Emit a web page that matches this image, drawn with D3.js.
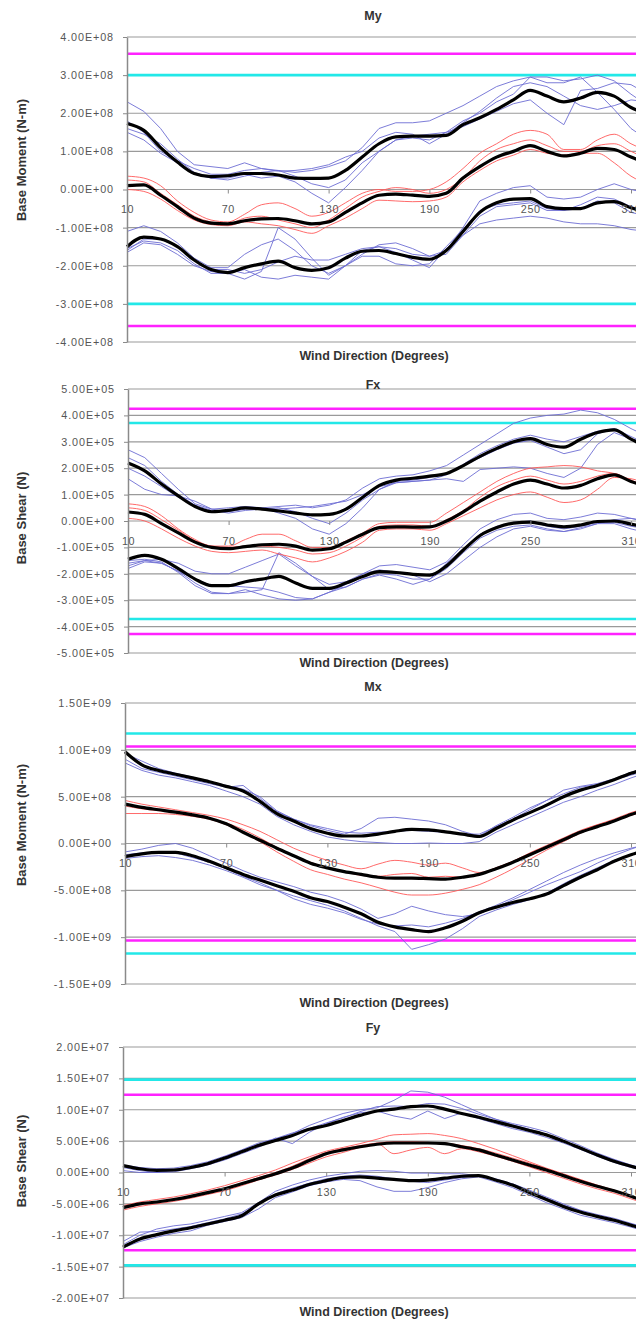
<!DOCTYPE html>
<html>
<head>
<meta charset="utf-8">
<script src="https://cdn.jsdelivr.net/npm/d3@7"></script>
<style>
  body { margin: 0; background: #fff; }
  svg { display: block; font-family: "Liberation Sans", Arial, sans-serif; }
</style>
</head>
<body>
<svg id="chart" width="636" height="1322"></svg>
<script>
// Wind directions (degrees) for every sample
const directions = [10,20,30,40,50,60,70,80,90,100,110,120,130,140,150,160,170,180,190,200,210,220,230,240,250,260,270,280,290,300,310,320];
// Category labels shown along the zero line
const directionLabels = [10,70,130,190,250,310];

// ---------- My : base moment about y (values in units of 1E+08 N-m) ----------
const myTicks = [4e8,3e8,2e8,1e8,0,-1e8,-2e8,-3e8,-4e8];
const myTickLabels = ["4.00E+08","3.00E+08","2.00E+08","1.00E+08","0.00E+00","-1.00E+08","-2.00E+08","-3.00E+08","-4.00E+08"];
const myCyan = [3.0e8,-3.0e8];
const myMagenta = [3.56e8,-3.58e8];
const myMax  = [1.73,1.55,1.1,0.72,0.42,0.34,0.36,0.42,0.42,0.38,0.3,0.29,0.3,0.5,0.85,1.2,1.38,1.4,1.4,1.42,1.7,1.88,2.1,2.35,2.6,2.45,2.3,2.4,2.55,2.45,2.15,2.0];
const myMean = [0.1,0.12,-0.15,-0.45,-0.75,-0.88,-0.9,-0.82,-0.77,-0.76,-0.82,-0.9,-0.85,-0.6,-0.35,-0.15,-0.12,-0.15,-0.18,-0.1,0.3,0.6,0.85,1.0,1.15,1.0,0.88,0.95,1.08,1.05,0.85,0.7];
const myMin  = [-1.5,-1.25,-1.3,-1.5,-1.85,-2.1,-2.18,-2.05,-1.95,-1.88,-2.05,-2.12,-2.05,-1.8,-1.62,-1.6,-1.68,-1.78,-1.83,-1.6,-1.1,-0.6,-0.35,-0.25,-0.24,-0.45,-0.5,-0.5,-0.35,-0.32,-0.48,-0.6];
const myBlue = [
  [2.3,2.05,1.6,1.0,0.65,0.6,0.55,0.7,0.55,0.5,0.45,0.5,0.6,0.75,1.1,1.6,1.75,1.75,1.8,2.0,2.2,2.45,2.7,2.85,2.95,2.95,2.85,2.9,3.0,2.85,2.5,2.2],
  [1.6,1.45,1.2,0.8,0.45,0.3,0.25,0.35,0.45,0.5,0.35,0.15,0.05,0.25,0.7,1.0,1.3,1.35,1.3,1.5,1.8,2.0,2.3,2.5,2.95,2.8,2.8,2.95,2.55,2.1,1.6,1.3],
  [1.5,1.3,0.95,0.7,0.4,0.3,0.3,0.4,0.3,0.35,0.2,-0.1,-0.35,0.05,0.5,1.0,1.3,1.4,1.45,1.5,1.65,1.85,2.05,2.25,2.35,2.0,1.7,2.6,2.65,2.8,2.75,2.5],
  [1.8,1.5,1.0,0.75,0.55,0.4,0.4,0.5,0.55,0.48,0.5,0.55,0.65,0.85,1.0,1.35,1.5,1.45,1.2,1.45,1.75,2.05,2.4,2.7,2.8,2.7,2.45,2.2,2.1,2.2,2.35,2.3],
  [-1.1,-0.95,-1.1,-1.4,-1.8,-2.05,-2.05,-1.7,-1.45,-1.3,-1.6,-2.0,-2.2,-2.0,-1.7,-1.45,-1.4,-1.55,-1.75,-1.6,-1.0,-0.3,-0.1,0.05,0.1,-0.2,-0.25,-0.2,0.0,0.15,0.0,-0.1],
  [-1.65,-1.4,-1.45,-1.7,-2.0,-2.15,-2.2,-2.35,-2.15,-1.0,-1.3,-1.8,-2.25,-2.0,-1.75,-1.75,-1.95,-2.0,-1.95,-1.5,-1.05,-0.55,-0.4,-0.35,-0.3,-0.5,-0.55,-0.4,-0.2,-0.25,-0.45,-0.55],
  [-1.55,-1.35,-1.4,-1.6,-1.95,-2.2,-2.2,-2.1,-2.3,-2.35,-2.25,-2.3,-2.35,-2.0,-1.6,-1.5,-1.55,-1.7,-1.75,-1.7,-1.2,-0.7,-0.45,-0.4,-0.35,-0.55,-0.55,-0.5,-0.3,-0.35,-0.6,-0.7],
  [-1.6,-1.3,-1.3,-1.5,-1.85,-2.1,-2.1,-2.2,-2.1,-1.9,-1.75,-1.85,-1.85,-1.7,-1.55,-1.5,-1.65,-1.85,-2.05,-1.55,-1.2,-0.9,-0.8,-0.75,-0.7,-0.75,-0.85,-0.9,-0.9,-0.95,-1.05,-1.1]
];
const myRed = [
  [0.35,0.3,0.1,-0.3,-0.6,-0.8,-0.85,-0.65,-0.4,-0.35,-0.5,-0.7,-0.6,-0.35,-0.1,0.0,-0.05,-0.05,0.0,0.2,0.55,0.95,1.2,1.45,1.55,1.45,1.05,1.05,1.3,1.45,1.2,1.0],
  [0.0,-0.05,-0.25,-0.55,-0.8,-0.92,-0.95,-0.85,-0.9,-0.95,-1.05,-1.15,-0.95,-0.75,-0.5,-0.28,-0.3,-0.32,-0.3,-0.2,0.2,0.5,0.75,0.9,1.05,0.95,0.9,0.95,0.95,0.7,0.35,0.15],
  [0.25,0.2,-0.1,-0.4,-0.7,-0.85,-0.9,-0.75,-0.7,-0.8,-0.9,-1.0,-0.8,-0.5,-0.2,-0.05,0.05,0.0,-0.1,0.0,0.3,0.75,1.05,1.2,1.3,1.15,1.0,1.0,1.15,1.2,1.0,0.8]
];

// ---------- Fx : base shear along x (values in units of 1E+05 N) ----------
const fxTicks = [5e5,4e5,3e5,2e5,1e5,0,-1e5,-2e5,-3e5,-4e5,-5e5];
const fxTickLabels = ["5.00E+05","4.00E+05","3.00E+05","2.00E+05","1.00E+05","0.00E+00","-1.00E+05","-2.00E+05","-3.00E+05","-4.00E+05","-5.00E+05"];
const fxCyan = [3.71e5,-3.71e5];
const fxMagenta = [4.25e5,-4.28e5];
const fxMax  = [2.2,1.9,1.4,0.95,0.55,0.35,0.4,0.5,0.45,0.38,0.3,0.23,0.25,0.45,0.9,1.35,1.55,1.62,1.7,1.8,2.1,2.45,2.75,3.0,3.12,2.9,2.8,3.1,3.35,3.45,3.1,2.8];
const fxMean = [0.34,0.25,-0.1,-0.45,-0.8,-1.0,-1.05,-0.97,-0.9,-0.88,-0.95,-1.1,-1.05,-0.8,-0.5,-0.25,-0.22,-0.23,-0.22,0.0,0.35,0.75,1.1,1.4,1.55,1.4,1.25,1.35,1.6,1.75,1.5,1.3];
const fxMin  = [-1.45,-1.3,-1.45,-1.8,-2.2,-2.45,-2.45,-2.3,-2.2,-2.1,-2.35,-2.55,-2.55,-2.35,-2.1,-1.92,-1.95,-2.02,-2.05,-1.7,-1.1,-0.55,-0.25,-0.08,-0.04,-0.15,-0.22,-0.15,-0.02,0.0,-0.12,-0.25];
const fxBlue = [
  [2.7,2.4,1.8,1.2,0.65,0.45,0.5,0.55,0.5,0.55,0.6,0.5,0.6,0.8,1.25,1.6,1.7,1.75,1.9,2.1,2.5,2.9,3.3,3.7,3.9,4.0,4.05,4.2,4.1,3.85,3.5,3.2],
  [2.4,2.1,1.5,1.0,0.6,0.4,0.3,0.4,0.45,0.5,0.35,0.1,-0.1,0.3,0.8,1.2,1.5,1.55,1.65,1.8,2.1,2.4,2.7,2.95,3.05,2.8,2.55,2.7,3.3,3.5,3.1,2.8],
  [1.6,1.2,1.0,0.95,0.75,0.45,0.35,0.45,0.5,0.3,0.1,-0.3,-0.5,-0.1,0.5,1.2,1.45,1.5,1.55,1.6,1.5,1.95,2.0,2.05,2.0,1.8,1.65,2.0,2.9,3.35,3.1,3.0],
  [2.0,1.7,1.3,0.9,0.55,0.35,0.4,0.5,0.45,0.45,0.5,0.55,0.65,0.75,1.0,1.3,1.45,1.5,1.55,1.75,2.15,2.55,2.85,3.1,3.25,3.1,3.0,3.2,3.4,3.5,3.2,2.9],
  [-1.7,-1.5,-1.45,-1.6,-1.9,-2.0,-2.0,-1.75,-1.5,-1.25,-1.7,-2.1,-2.4,-2.3,-2.0,-1.7,-1.65,-1.75,-1.85,-1.55,-0.9,-0.3,0.05,0.25,0.3,0.1,0.05,0.15,0.3,0.25,0.1,-0.05],
  [-1.8,-1.55,-1.6,-1.9,-2.35,-2.7,-2.75,-2.7,-2.6,-1.2,-1.6,-2.1,-2.6,-2.5,-2.2,-2.05,-2.2,-2.4,-2.2,-1.6,-1.05,-0.5,-0.2,-0.05,0.0,-0.2,-0.3,-0.2,-0.05,-0.05,-0.2,-0.3],
  [-1.5,-1.45,-1.55,-1.95,-2.45,-2.75,-2.75,-2.6,-2.8,-2.95,-3.0,-2.95,-2.7,-2.5,-2.2,-2.0,-2.05,-2.2,-2.2,-1.8,-1.2,-0.65,-0.35,-0.2,-0.15,-0.3,-0.4,-0.3,-0.1,-0.1,-0.3,-0.45],
  [-1.6,-1.5,-1.6,-1.9,-2.2,-2.45,-2.45,-2.5,-2.55,-2.7,-2.9,-2.95,-2.7,-2.4,-2.0,-1.85,-1.95,-2.05,-2.3,-2.0,-1.5,-1.0,-0.6,-0.3,-0.2,-0.35,-0.4,-0.25,-0.1,0.05,0.1,0.0]
];
const fxRed = [
  [0.65,0.55,0.2,-0.3,-0.7,-0.95,-0.95,-0.7,-0.5,-0.5,-0.75,-1.0,-1.0,-0.75,-0.45,-0.1,-0.05,-0.05,-0.05,0.3,0.7,1.1,1.5,1.8,2.0,2.05,2.1,2.05,1.9,1.8,1.55,1.3],
  [0.1,0.0,-0.3,-0.65,-0.95,-1.15,-1.2,-1.15,-1.1,-1.25,-1.4,-1.55,-1.4,-1.15,-0.8,-0.35,-0.3,-0.3,-0.35,-0.1,0.2,0.5,0.8,1.0,1.1,0.9,0.7,0.8,1.2,1.65,1.6,1.4],
  [0.5,0.4,0.05,-0.35,-0.75,-0.95,-1.0,-0.95,-0.95,-1.0,-1.1,-1.25,-1.2,-0.95,-0.6,-0.2,-0.15,-0.15,-0.2,0.05,0.4,0.9,1.3,1.55,1.7,1.55,1.4,1.5,1.7,1.8,1.5,1.3]
];

// ---------- Mx : base moment about x (values in units of 1E+08 N-m) ----------
const mxTicks = [1.5e9,1e9,5e8,0,-5e8,-1e9,-1.5e9];
const mxTickLabels = ["1.50E+09","1.00E+09","5.00E+08","0.00E+00","-5.00E+08","-1.00E+09","-1.50E+09"];
const mxCyan = [1.175e9,-1.175e9];
const mxMagenta = [1.036e9,-1.036e9];
const mxMax  = [9.8,8.4,7.8,7.4,7.0,6.6,6.1,5.6,4.5,3.2,2.4,1.6,1.1,0.8,0.8,1.0,1.3,1.5,1.45,1.25,1.0,0.75,1.6,2.5,3.3,4.1,5.0,5.7,6.2,6.8,7.5,8.0];
const mxMean = [4.2,3.85,3.6,3.35,3.05,2.7,2.1,1.2,0.35,-0.5,-1.3,-2.1,-2.6,-3.0,-3.3,-3.6,-3.7,-3.7,-3.75,-3.8,-3.6,-3.3,-2.7,-2.0,-1.2,-0.4,0.4,1.2,1.8,2.4,3.1,3.6];
const mxMin  = [-1.4,-1.1,-0.95,-0.95,-1.3,-1.9,-2.6,-3.3,-3.9,-4.5,-5.1,-5.8,-6.2,-6.8,-7.5,-8.4,-8.9,-9.2,-9.4,-9.0,-8.3,-7.4,-6.8,-6.3,-5.9,-5.4,-4.5,-3.6,-2.8,-1.9,-1.2,-0.7];
const mxBlue = [
  [9.0,8.0,7.6,7.2,6.8,6.4,6.0,6.2,4.8,3.4,2.6,1.9,1.4,1.0,1.6,2.7,2.8,2.6,2.4,2.0,1.3,0.8,1.9,2.8,3.8,4.6,5.3,6.0,6.3,6.8,7.3,7.8],
  [9.6,8.8,8.0,7.5,7.1,6.6,6.2,5.8,5.0,3.5,2.6,2.0,1.6,1.2,1.1,1.2,1.3,1.4,1.3,1.2,1.0,1.0,1.8,2.6,3.6,4.6,5.7,6.1,6.4,6.9,7.6,8.1],
  [8.6,7.8,7.3,7.0,6.6,6.2,5.6,5.0,4.2,2.9,2.0,1.3,0.7,0.4,0.2,0.1,0.0,0.0,0.05,0.0,0.0,0.2,1.2,2.0,2.8,3.6,4.4,5.0,5.7,6.3,7.0,7.6],
  [-0.9,-0.6,-0.2,0.0,-0.5,-1.3,-2.1,-2.9,-3.6,-4.1,-4.6,-5.2,-5.6,-6.2,-7.0,-8.0,-7.5,-6.7,-7.2,-7.6,-7.8,-7.5,-6.8,-6.0,-5.2,-4.4,-3.7,-3.0,-2.1,-1.3,-0.6,0.0],
  [-1.6,-1.4,-1.3,-1.5,-1.8,-2.3,-2.9,-3.6,-4.4,-5.0,-5.6,-6.1,-6.6,-7.2,-8.0,-8.8,-9.4,-11.3,-10.8,-10.2,-9.1,-7.8,-7.1,-6.5,-6.0,-5.3,-4.3,-3.4,-2.6,-1.8,-1.2,-0.7],
  [-1.2,-1.0,-0.9,-1.0,-1.5,-2.0,-2.7,-3.5,-4.2,-5.0,-5.9,-6.5,-6.9,-7.4,-8.1,-8.6,-8.8,-8.7,-8.9,-8.5,-8.0,-7.3,-6.6,-5.8,-4.9,-4.0,-3.1,-2.3,-1.6,-1.0,-0.5,-0.1]
];
const mxRed = [
  [4.6,4.2,3.9,3.6,3.3,3.0,2.6,2.0,1.3,0.4,-0.5,-1.2,-1.8,-2.3,-2.7,-2.2,-1.8,-2.0,-2.3,-2.1,-2.6,-3.1,-2.6,-1.9,-1.1,-0.3,0.5,1.3,2.0,2.6,3.3,3.8],
  [3.2,3.2,3.2,3.1,2.9,2.6,2.0,1.2,0.2,-0.9,-1.9,-2.8,-3.3,-3.8,-4.2,-4.7,-5.2,-5.5,-5.5,-5.3,-4.9,-4.4,-3.6,-2.7,-1.7,-0.7,0.2,1.1,1.8,2.4,3.0,3.5],
  [4.0,3.7,3.5,3.3,3.0,2.7,2.2,1.5,0.6,-0.4,-1.3,-2.0,-2.6,-3.0,-3.4,-3.5,-3.3,-3.2,-3.6,-3.5,-3.6,-3.3,-2.6,-1.9,-1.0,-0.2,0.6,1.4,2.0,2.5,3.2,3.7]
];

// ---------- Fy : base shear along y (values in units of 1E+06 N) ----------
const fyTicks = [2e7,1.5e7,1e7,5e6,0,-5e6,-1e7,-1.5e7,-2e7];
const fyTickLabels = ["2.00E+07","1.50E+07","1.00E+07","5.00E+06","0.00E+00","-5.00E+06","-1.00E+07","-1.50E+07","-2.00E+07"];
const fyCyan = [1.48e7,-1.48e7];
const fyMagenta = [1.24e7,-1.24e7];
const fyMax  = [1.1,0.6,0.35,0.4,0.8,1.4,2.3,3.3,4.3,5.1,5.9,6.9,7.5,8.3,9.1,9.8,10.1,10.5,10.6,10.1,9.4,8.8,8.1,7.4,6.7,6.0,5.0,3.9,2.8,1.8,1.0,0.3];
const fyMean = [-5.6,-5.0,-4.7,-4.3,-3.8,-3.2,-2.6,-1.8,-1.0,-0.2,0.7,1.9,3.0,3.6,4.1,4.5,4.7,4.7,4.7,4.6,4.1,3.6,2.8,2.0,1.2,0.4,-0.5,-1.4,-2.2,-2.9,-3.8,-4.8];
const fyMin  = [-11.9,-10.6,-9.9,-9.3,-8.8,-8.2,-7.6,-6.9,-5.0,-3.6,-2.8,-1.9,-1.3,-0.8,-0.7,-0.9,-1.1,-1.3,-1.2,-0.9,-0.6,-0.5,-1.2,-2.0,-3.2,-4.3,-5.4,-6.3,-7.0,-7.6,-8.4,-9.2];
const fyBlue = [
  [0.3,0.0,0.0,0.3,0.8,1.5,2.5,3.5,4.5,5.3,6.2,7.5,8.5,9.4,10.0,10.3,11.5,13.0,12.8,12.0,10.8,9.6,8.5,7.6,6.9,6.1,5.1,4.0,3.0,2.0,1.1,0.4],
  [0.8,0.3,0.0,0.1,0.6,1.2,2.0,3.0,4.0,5.5,4.6,6.4,7.8,8.8,9.5,9.8,9.0,8.5,9.8,8.6,9.5,8.6,7.8,7.0,6.4,5.6,4.7,3.7,2.6,1.6,0.8,0.2],
  [1.2,0.8,0.6,0.7,1.1,1.7,2.6,3.6,4.7,5.4,6.3,7.0,7.9,8.7,9.7,10.5,10.6,10.5,11.0,10.9,10.2,9.3,8.5,7.8,7.2,6.5,5.4,4.3,3.1,2.1,1.2,0.5],
  [-11.5,-10.0,-9.0,-8.5,-8.2,-7.6,-7.0,-6.4,-4.8,-3.0,-2.0,-1.2,-0.6,-0.2,0.2,0.3,0.2,-0.1,-0.1,-0.2,-0.2,-0.5,-1.1,-2.0,-3.0,-4.1,-5.2,-6.1,-6.9,-7.5,-8.2,-9.0],
  [-12.0,-11.0,-10.3,-9.7,-9.3,-8.4,-7.8,-7.2,-5.8,-4.0,-3.1,-2.1,-1.5,-1.1,-1.3,-2.3,-3.0,-3.0,-2.4,-1.6,-1.0,-0.7,-1.5,-2.4,-3.6,-4.8,-5.8,-6.8,-7.4,-8.0,-8.7,-9.5],
  [-11.0,-9.5,-9.4,-9.0,-8.6,-8.0,-7.4,-6.6,-5.2,-3.4,-2.5,-1.7,-1.0,-0.6,-0.4,-0.6,-1.0,-1.4,-1.6,-1.2,-0.8,-0.4,-1.0,-1.8,-2.8,-3.9,-5.0,-6.0,-6.7,-7.3,-8.1,-8.9]
];
const fyRed = [
  [-5.3,-4.7,-4.3,-3.9,-3.4,-2.8,-2.1,-1.3,-0.5,0.4,1.5,2.5,3.4,4.0,4.6,5.3,6.0,6.1,6.2,5.9,5.4,4.6,3.7,2.7,1.7,0.7,-0.2,-1.1,-2.0,-2.8,-3.7,-4.6],
  [-6.0,-5.4,-5.0,-4.6,-4.1,-3.5,-2.9,-2.1,-1.2,-0.4,0.5,1.5,2.5,3.2,4.0,4.6,3.0,3.6,4.0,3.0,3.8,3.3,2.6,1.8,0.9,0.0,-0.9,-1.8,-2.6,-3.3,-4.2,-5.1],
  [-5.6,-5.1,-4.7,-4.3,-3.8,-3.2,-2.5,-1.7,-0.8,0.0,1.0,2.2,3.2,3.8,4.3,4.7,4.9,4.9,4.8,4.7,4.3,3.8,3.1,2.3,1.5,0.6,-0.3,-1.2,-2.1,-2.9,-3.9,-4.8]
];

// Panel layout: plot box, titles, and which arrays feed each chart
const panels = [
  { title: "My", yTitle: "Base Moment (N-m)", unit: 1e8, left: 127, top: 37, bottom: 342,
    ticks: myTicks, tickLabels: myTickLabels, cyan: myCyan, magenta: myMagenta,
    max: myMax, mean: myMean, min: myMin, blue: myBlue, red: myRed,
    titleY: 20, xTitleY: 360, yTitleY: 160 },
  { title: "Fx", yTitle: "Base Shear (N)", unit: 1e5, left: 128, top: 389, bottom: 653,
    ticks: fxTicks, tickLabels: fxTickLabels, cyan: fxCyan, magenta: fxMagenta,
    max: fxMax, mean: fxMean, min: fxMin, blue: fxBlue, red: fxRed,
    titleY: 389, xTitleY: 667, yTitleY: 518 },
  { title: "Mx", yTitle: "Base Moment (N-m)", unit: 1e8, left: 125, top: 703, bottom: 984,
    ticks: mxTicks, tickLabels: mxTickLabels, cyan: mxCyan, magenta: mxMagenta,
    max: mxMax, mean: mxMean, min: mxMin, blue: mxBlue, red: mxRed,
    titleY: 691, xTitleY: 1007, yTitleY: 825 },
  { title: "Fy", yTitle: "Base Shear (N)", unit: 1e6, left: 123, top: 1047, bottom: 1298,
    ticks: fyTicks, tickLabels: fyTickLabels, cyan: fyCyan, magenta: fyMagenta,
    max: fyMax, mean: fyMean, min: fyMin, blue: fyBlue, red: fyRed,
    titleY: 1032, xTitleY: 1316, yTitleY: 1161 }
];

const W = 636, H = 1322;
const svg = d3.select("#chart");
svg.append("rect").attr("width", W).attr("height", H).attr("fill", "#fff");

panels.forEach(p => {
  const g = svg.append("g");
  const x = d3.scaleLinear().domain([10, 310]).range([p.left, 631]);
  const y = d3.scaleLinear().domain([p.ticks[p.ticks.length - 1], p.ticks[0]]).range([p.bottom, p.top]);

  // horizontal gridlines
  g.append("g").selectAll("line").data(p.ticks).join("line")
    .attr("x1", p.left).attr("x2", W)
    .attr("y1", d => y(d)).attr("y2", d => y(d))
    .attr("stroke", "#9a9a9a").attr("stroke-width", 1.2);

  // design limit lines
  g.append("g").selectAll("line").data(p.cyan).join("line")
    .attr("x1", p.left).attr("x2", W)
    .attr("y1", d => y(d)).attr("y2", d => y(d))
    .attr("stroke", "#22e8e8").attr("stroke-width", 2.6);
  g.append("g").selectAll("line").data(p.magenta).join("line")
    .attr("x1", p.left).attr("x2", W)
    .attr("y1", d => y(d)).attr("y2", d => y(d))
    .attr("stroke", "#ff22ff").attr("stroke-width", 2.4);

  const line = d3.line()
    .x((d, i) => x(directions[i]))
    .y(d => y(d * p.unit));
  const smooth = d3.line()
    .x((d, i) => x(directions[i]))
    .y(d => y(d * p.unit))
    .curve(d3.curveMonotoneX);

  // individual runs
  g.append("g").selectAll("path").data(p.blue).join("path")
    .attr("d", line).attr("fill", "none")
    .attr("stroke", "#6e6ed4").attr("stroke-width", 1).attr("stroke-opacity", 0.9);
  g.append("g").selectAll("path").data(p.red).join("path")
    .attr("d", smooth).attr("fill", "none")
    .attr("stroke", "#ff5a5a").attr("stroke-width", 1).attr("stroke-opacity", 0.9);

  // averaged envelopes
  g.append("g").selectAll("path").data([p.max, p.mean, p.min]).join("path")
    .attr("d", smooth).attr("fill", "none")
    .attr("stroke", "#000").attr("stroke-width", 3.2)
    .attr("stroke-linejoin", "round");

  // y axis
  const yAxis = d3.axisLeft(y)
    .tickValues(p.ticks)
    .tickFormat((d, i) => p.tickLabels[i])
    .tickSize(4).tickSizeOuter(0).tickPadding(9);
  const ya = g.append("g").attr("transform", `translate(${p.left},0)`).call(yAxis);
  ya.select(".domain").attr("stroke", "#8a8a8a").attr("stroke-width", 1.5);
  ya.selectAll(".tick line").attr("stroke", "#8a8a8a");
  ya.selectAll("text").attr("font-size", 10.8).attr("fill", "#555")
    .attr("letter-spacing", "0.9px")
    .attr("font-family", "'Liberation Sans', Arial, sans-serif");

  // category axis along the zero line
  const xAxis = d3.axisBottom(x)
    .tickValues(directionLabels)
    .tickFormat(d3.format("d"))
    .tickSize(4).tickSizeOuter(0).tickPadding(12);
  const xa = g.append("g").attr("transform", `translate(0,${y(0)})`).call(xAxis);
  xa.select(".domain").remove();
  xa.selectAll(".tick line").attr("stroke", "#8a8a8a");
  xa.selectAll("text").attr("font-size", 10.8).attr("fill", "#555")
    .attr("letter-spacing", "0.6px")
    .attr("font-family", "'Liberation Sans', Arial, sans-serif");

  // titles
  g.append("text").attr("x", 373).attr("y", p.titleY)
    .attr("text-anchor", "middle").attr("font-size", 12.5).attr("font-weight", "bold")
    .attr("fill", "#333").text(p.title);
  g.append("text").attr("x", 374).attr("y", p.xTitleY)
    .attr("text-anchor", "middle").attr("font-size", 12.5).attr("font-weight", "bold")
    .attr("fill", "#333").text("Wind Direction (Degrees)");
  g.append("text")
    .attr("transform", `translate(21,${p.yTitleY}) rotate(-90)`)
    .attr("dy", "0.35em")
    .attr("text-anchor", "middle").attr("font-size", 13).attr("font-weight", "bold")
    .attr("fill", "#333").text(p.yTitle);
});
</script>
</body>
</html>
